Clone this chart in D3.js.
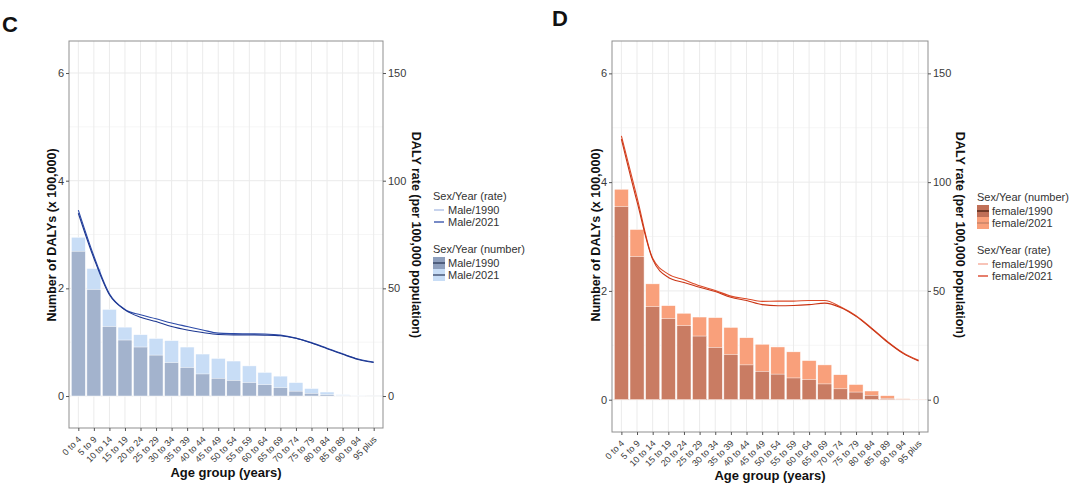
<!DOCTYPE html>
<html><head><meta charset="utf-8">
<script src="https://cdn.jsdelivr.net/npm/d3@7"></script>
<style>body{margin:0;background:#fff;} svg{display:block;font-family:"Liberation Sans",Arial,sans-serif;}</style>
</head><body>
<svg id="chart" width="1077" height="497"></svg>
<script>
const ageGroups = ["0 to 4","5 to 9","10 to 14","15 to 19","20 to 24","25 to 29","30 to 34","35 to 39","40 to 44","45 to 49","50 to 54","55 to 59","60 to 64","65 to 69","70 to 74","75 to 79","80 to 84","85 to 89","90 to 94","95 plus"];
const leftTicks = [0, 2, 4, 6];
const rightTicks = [0, 50, 100, 150];

const maleNum1990 = [2.69,1.98,1.29,1.04,0.91,0.76,0.62,0.53,0.41,0.33,0.29,0.25,0.21,0.155,0.09,0.05,0.025,0.006,0.001,0];
const maleNum2021 = [2.95,2.37,1.61,1.28,1.14,1.07,1.03,0.91,0.78,0.70,0.65,0.56,0.44,0.37,0.25,0.14,0.075,0.025,0.008,0.002];
const maleRate1990 = [86.3,65,47.5,40.2,37.7,35.9,33.9,32.3,30.7,29.2,29.0,28.9,28.8,28.3,26.9,24.8,22.2,19.6,17.2,15.8];
const maleRate2021 = [84.9,64,47,40,36.6,34.6,32.3,30.7,29.5,28.6,28.4,28.4,28.3,28.0,26.8,24.6,22.0,19.4,17.0,15.6];

const femaleNum1990 = [3.55,2.63,1.71,1.49,1.36,1.17,0.96,0.83,0.64,0.52,0.47,0.40,0.37,0.29,0.20,0.14,0.08,0.025,0.005,0.002];
const femaleNum2021 = [3.87,3.13,2.13,1.73,1.59,1.52,1.51,1.33,1.14,1.02,0.97,0.88,0.72,0.64,0.46,0.28,0.16,0.074,0.018,0.006];
const femaleRate1990 = [121.3,93,65,57.7,55.1,52.4,50.2,47.6,46.4,45.2,45.3,45.3,45.6,45.6,42.7,38.6,32.9,26.8,21.6,18.1];
const femaleRate2021 = [119.8,91,64.5,56.2,53.9,51.7,49.7,47.1,45.6,43.7,43.2,43.3,43.7,44.4,42.4,38.3,32.6,26.5,21.3,17.8];

const svg = d3.select("#chart");

function drawPanel(cfg) {
  const g = svg.append("g");
  const {x0, x1, y0, y1} = cfg;
  const x = d3.scalePoint().domain(ageGroups).range([x0, x1]).padding(0.6);
  const y = d3.scaleLinear().domain([-0.594, 6.595]).range([y1, y0]);
  const yr = d3.scaleLinear().domain([-0.594*25, 6.595*25]).range([y1, y0]);
  const bw = x.step() * 0.9;

  // grid
  [1,3,5].forEach(v => g.append("line").attr("x1", x0).attr("x2", x1).attr("y1", y(v)).attr("y2", y(v)).attr("stroke", "#f4f4f4").attr("stroke-width", 0.8));
  leftTicks.forEach(v => g.append("line").attr("x1", x0).attr("x2", x1).attr("y1", y(v)).attr("y2", y(v)).attr("stroke", "#ebebeb").attr("stroke-width", 1));
  ageGroups.forEach(a => g.append("line").attr("x1", x(a)).attr("x2", x(a)).attr("y1", y0).attr("y2", y1).attr("stroke", "#ebebeb").attr("stroke-width", 1));

  // bars
  g.selectAll(null).data(ageGroups).enter().append("rect")
    .attr("x", d => x(d) - bw/2).attr("width", bw)
    .attr("y", (d,i) => y(cfg.num2021[i])).attr("height", (d,i) => y(0) - y(cfg.num2021[i]))
    .attr("fill", cfg.c2021).attr("stroke", "#fff").attr("stroke-width", 0.5);
  g.selectAll(null).data(ageGroups).enter().append("rect")
    .attr("x", d => x(d) - bw/2).attr("width", bw)
    .attr("y", (d,i) => y(cfg.num1990[i])).attr("height", (d,i) => y(0) - y(cfg.num1990[i]))
    .attr("fill", cfg.c1990).attr("stroke", "#fff").attr("stroke-width", 0.5);

  // lines
  const line = d3.line().x((d,i) => x(ageGroups[i])).y(d => yr(d)).curve(d3.curveMonotoneX);
  g.append("path").attr("d", line(cfg.rate1990)).attr("fill", "none").attr("stroke", cfg.l1990).attr("stroke-width", 1.1);
  g.append("path").attr("d", line(cfg.rate2021)).attr("fill", "none").attr("stroke", cfg.l2021).attr("stroke-width", 1.1);

  // border
  g.append("rect").attr("x", x0).attr("y", y0).attr("width", x1 - x0).attr("height", y1 - y0)
    .attr("fill", "none").attr("stroke", "#8f8f8f").attr("stroke-width", 1);

  // axes
  const la = g.append("g").attr("transform", `translate(${x0},0)`)
    .call(d3.axisLeft(y).tickValues(leftTicks).tickSize(3).tickPadding(2).tickFormat(d3.format("d")));
  const ra = g.append("g").attr("transform", `translate(${x1},0)`)
    .call(d3.axisRight(yr).tickValues(rightTicks).tickSize(3).tickPadding(2).tickFormat(d3.format("d")));
  const ba = g.append("g").attr("transform", `translate(0,${y1})`)
    .call(d3.axisBottom(x).tickSize(3).tickPadding(2));
  [la, ra, ba].forEach(a => {
    a.select(".domain").remove();
    a.selectAll(".tick line").attr("stroke", "#555");
    a.selectAll("text").attr("fill", "#3a3a3a").style("font-size", "11px").style("font-family", "Liberation Sans, Arial, sans-serif");
  });
  ba.selectAll("text").style("font-size", "9px")
    .attr("text-anchor", "end").attr("dy", null).attr("y", null)
    .attr("transform", "translate(3,12) rotate(-45)");

  // titles
  g.append("text").attr("x", (x0 + x1)/2).attr("y", cfg.xTitleY).attr("text-anchor", "middle")
    .style("font-size", "13px").style("font-weight", "bold").attr("fill", "#111").text("Age group (years)");
  g.append("text").attr("transform", `translate(${cfg.lTitleX},235) rotate(-90)`).attr("text-anchor", "middle")
    .style("font-size", "12.5px").style("font-weight", "bold").attr("fill", "#111").text("Number of DALYs (x 100,000)");
  g.append("text").attr("transform", `translate(${cfg.rTitleX},235) rotate(90)`).attr("text-anchor", "middle")
    .style("font-size", "12.5px").style("font-weight", "bold").attr("fill", "#111").text("DALY rate (per 100,000 population)");
  g.append("text").attr("x", cfg.labX).attr("y", cfg.labY).style("font-size", "22px").style("font-weight", "bold")
    .attr("fill", "#111").text(cfg.label);

  // legends
  cfg.legends.forEach(lg => {
    const lgG = svg.append("g");
    lgG.append("text").attr("x", lg.x).attr("y", lg.y).attr("dy", "0.35em").style("font-size", "11px").attr("fill", "#333").text(lg.title);
    lg.items.forEach((it, k) => {
      const cy = lg.y + 14 + k * 12;
      if (it.type === "line") {
        lgG.append("line").attr("x1", lg.x + 1).attr("x2", lg.x + 11).attr("y1", cy).attr("y2", cy)
          .attr("stroke", it.color).attr("stroke-width", 1.3);
      } else {
        lgG.append("rect").attr("x", lg.x).attr("y", cy - 6).attr("width", 12).attr("height", 12).attr("fill", it.color);
        lgG.append("line").attr("x1", lg.x).attr("x2", lg.x + 12).attr("y1", cy).attr("y2", cy)
          .attr("stroke", it.line).attr("stroke-width", 1.5);
      }
      lgG.append("text").attr("x", lg.x + 15).attr("y", cy).attr("dy", "0.35em").style("font-size", "11px").attr("fill", "#333").text(it.label);
    });
  });
}

drawPanel({
  x0: 69, x1: 383, y0: 41, y1: 428,
  num1990: maleNum1990, num2021: maleNum2021, rate1990: maleRate1990, rate2021: maleRate2021,
  c1990: "#a3b3cd", c2021: "#c8ddf6", l1990: "#2d4ba8", l2021: "#1c3690",
  xTitleY: 477, lTitleX: 56, rTitleX: 412, labX: 2, labY: 32, label: "C",
  legends: [
    {x: 433, y: 196, title: "Sex/Year (rate)", items: [
      {type: "line", color: "#a9bce4", label: "Male/1990"},
      {type: "line", color: "#2d4ba8", label: "Male/2021"}]},
    {x: 433, y: 249, title: "Sex/Year (number)", items: [
      {type: "rect", color: "#8e9fbd", line: "#3a4968", label: "Male/1990"},
      {type: "rect", color: "#c8ddf6", line: "#4a5878", label: "Male/2021"}]}
  ]
});

drawPanel({
  x0: 612, x1: 928, y0: 41, y1: 432,
  num1990: femaleNum1990, num2021: femaleNum2021, rate1990: femaleRate1990, rate2021: femaleRate2021,
  c1990: "#c97c63", c2021: "#f9a07b", l1990: "#dc4a28", l2021: "#c93414",
  xTitleY: 480, lTitleX: 600, rTitleX: 956, labX: 552, labY: 26, label: "D",
  legends: [
    {x: 977, y: 197, title: "Sex/Year (number)", items: [
      {type: "rect", color: "#c07058", line: "#5a2a1a", label: "female/1990"},
      {type: "rect", color: "#f9a07b", line: "#c98468", label: "female/2021"}]},
    {x: 977, y: 250, title: "Sex/Year (rate)", items: [
      {type: "line", color: "#f5a592", label: "female/1990"},
      {type: "line", color: "#d8381c", label: "female/2021"}]}
  ]
});
</script>
</body></html>
